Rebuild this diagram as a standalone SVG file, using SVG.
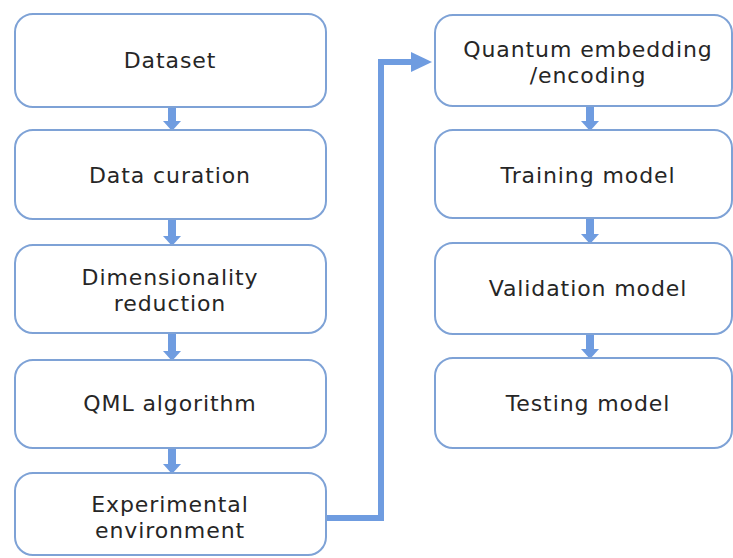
<svg xmlns="http://www.w3.org/2000/svg" width="733" height="558" viewBox="0 0 733 558">
  <defs>
    <style>
      .box { fill: #ffffff; stroke: #7ea2d6; stroke-width: 2; }
      .lbl { font-family: "DejaVu Sans", "Open Sans", sans-serif; font-size: 22px; letter-spacing: 0.9px; fill: #262626; text-anchor: middle; }
      .shaft { stroke: #6f9ce0; stroke-width: 8; fill: none; }
      .conn { stroke: #6f9ce0; stroke-width: 6; fill: none; }
    </style>
    <marker id="headS" markerUnits="userSpaceOnUse" markerWidth="10" markerHeight="18" refX="0" refY="9" orient="auto">
      <path d="M0,0 L10,9 L0,18 z" fill="#6f9ce0"/>
    </marker>
    <marker id="headL" markerUnits="userSpaceOnUse" markerWidth="21" markerHeight="20" refX="0" refY="10" orient="auto">
      <path d="M0,0 L21,10 L0,20 z" fill="#6f9ce0"/>
    </marker>
  </defs>
  <rect width="733" height="558" fill="#ffffff"/>

  <g id="connectors">
    <line class="shaft" x1="172" y1="107" x2="172" y2="121" marker-end="url(#headS)"/>
    <line class="shaft" x1="172" y1="219" x2="172" y2="236" marker-end="url(#headS)"/>
    <line class="shaft" x1="172" y1="333" x2="172" y2="351" marker-end="url(#headS)"/>
    <line class="shaft" x1="172" y1="448" x2="172" y2="464" marker-end="url(#headS)"/>
    <line class="shaft" x1="590" y1="106" x2="590" y2="121" marker-end="url(#headS)"/>
    <line class="shaft" x1="590" y1="218" x2="590" y2="234" marker-end="url(#headS)"/>
    <line class="shaft" x1="590" y1="334" x2="590" y2="349" marker-end="url(#headS)"/>
    <polyline class="conn" points="326,518 381,518 381,62 411,62" marker-end="url(#headL)"/>
  </g>

  <g id="dataset">
    <rect class="box" x="15" y="14" width="311" height="93" rx="18"/>
    <text class="lbl" x="170" y="68">Dataset</text>
  </g>
  <g id="data-curation">
    <rect class="box" x="15" y="130" width="311" height="89" rx="18"/>
    <text class="lbl" x="170" y="183">Data curation</text>
  </g>
  <g id="dimensionality-reduction">
    <rect class="box" x="15" y="245" width="311" height="88" rx="18"/>
    <text class="lbl" x="170" y="285">Dimensionality<tspan x="170" dy="26">reduction</tspan></text>
  </g>
  <g id="qml-algorithm">
    <rect class="box" x="15" y="360" width="311" height="88" rx="18"/>
    <text class="lbl" x="170" y="411">QML algorithm</text>
  </g>
  <g id="experimental-environment">
    <rect class="box" x="15" y="473" width="311" height="82" rx="18"/>
    <text class="lbl" x="170" y="512">Experimental<tspan x="170" dy="26">environment</tspan></text>
  </g>

  <g id="quantum-embedding">
    <rect class="box" x="435" y="15" width="297" height="91" rx="18"/>
    <text class="lbl" x="588" y="57">Quantum embedding<tspan x="588" dy="26">/encoding</tspan></text>
  </g>
  <g id="training-model">
    <rect class="box" x="435" y="130" width="297" height="88" rx="18"/>
    <text class="lbl" x="588" y="183">Training model</text>
  </g>
  <g id="validation-model">
    <rect class="box" x="435" y="243" width="297" height="91" rx="18"/>
    <text class="lbl" x="588" y="296">Validation model</text>
  </g>
  <g id="testing-model">
    <rect class="box" x="435" y="358" width="297" height="90" rx="18"/>
    <text class="lbl" x="588" y="411">Testing model</text>
  </g>
</svg>
